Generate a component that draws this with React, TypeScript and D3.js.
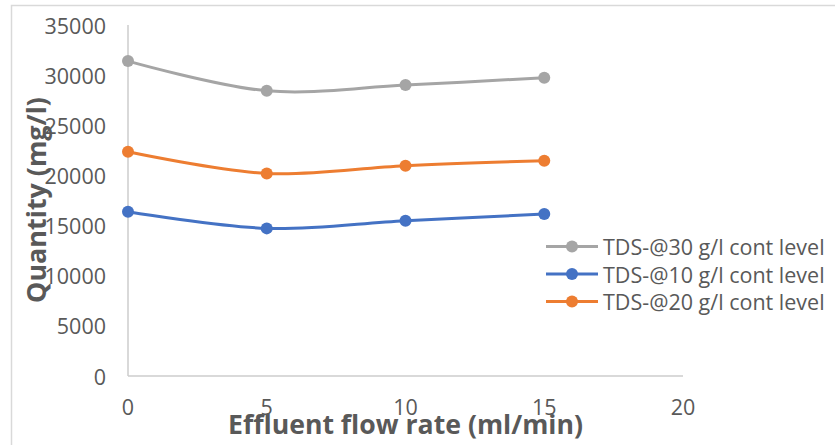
import React from "react";
import * as d3 from "d3";

// Effluent flow rate (ml/min)
const flowRates = [0, 5, 10, 15];
// TDS quantity (mg/l) per contamination level
const tds30 = [31400, 28440, 29010, 29740];
const tds10 = [16380, 14720, 15490, 16150];
const tds20 = [22360, 20200, 20970, 21470];

const xTicks = [0, 5, 10, 15, 20];
const yTicks = [0, 5000, 10000, 15000, 20000, 25000, 30000, 35000];

const seriesNames = [
  "TDS-@30 g/l cont level",
  "TDS-@10 g/l cont level",
  "TDS-@20 g/l cont level",
];
const seriesValues = [tds30, tds10, tds20];
const seriesColors = ["#A5A5A5", "#4472C4", "#ED7D31"];

const W = 835;
const H = 445;
const FONT = "'Open Sans', 'Noto Sans', sans-serif";
const TEXT = "#595959";

export default function App() {
  const x = d3.scaleLinear().domain([0, 20]).range([128, 683]);
  const y = d3.scaleLinear().domain([0, 35000]).range([376, 25]);

  const line = d3
    .line<[number, number]>()
    .x((d) => x(d[0]))
    .y((d) => y(d[1]))
    .curve(d3.curveCatmullRom.alpha(0.5));

  const drawOrder = [1, 2, 0];

  return (
    <svg
      width={W}
      height={H}
      style={{ position: "absolute", left: 0, top: 0, background: "#fff" }}
      fontFamily={FONT}
    >
      <rect x={0} y={0} width={W} height={H} fill="#fff" />
      {/* chart frame */}
      <rect x={11.5} y={5.5} width={W + 10} height={H + 10} fill="none" stroke="#d9d9d9" strokeWidth={1.5} />

      {/* axes */}
      <line x1={x(0)} x2={x(0)} y1={y(35000)} y2={y(0)} stroke="#cccccc" strokeWidth={1.5} />
      <line x1={x(0)} x2={x(20)} y1={y(0)} y2={y(0)} stroke="#cccccc" strokeWidth={1.5} />

      {yTicks.map((t) => (
        <text
          key={"y" + t}
          x={106}
          y={y(t)}
          textAnchor="end"
          dominantBaseline="central"
          fontSize={21.5}
          fill={TEXT}
        >
          {t}
        </text>
      ))}
      {xTicks.map((t) => (
        <text
          key={"x" + t}
          x={x(t)}
          y={406}
          textAnchor="middle"
          dominantBaseline="central"
          fontSize={21.5}
          fill={TEXT}
        >
          {t}
        </text>
      ))}

      {/* axis titles */}
      <text
        x={405.5}
        y={434}
        textAnchor="middle"
        fontSize={27}
        fontWeight="bold"
        fill={TEXT}
        textLength={355}
        lengthAdjust="spacingAndGlyphs"
      >
        Effluent flow rate (ml/min)
      </text>
      <text
        transform={`translate(46, 200) rotate(-90)`}
        textAnchor="middle"
        fontSize={27}
        fontWeight="bold"
        fill={TEXT}
        textLength={206}
        lengthAdjust="spacingAndGlyphs"
      >
        Quantity (mg/l)
      </text>

      {/* series */}
      {drawOrder.map((i) => {
        const pts = flowRates.map((f, k) => [f, seriesValues[i][k]] as [number, number]);
        return (
          <g key={"s" + i}>
            <path d={line(pts) || ""} fill="none" stroke={seriesColors[i]} strokeWidth={3} />
            {pts.map((p, k) => (
              <circle key={k} cx={x(p[0])} cy={y(p[1])} r={6} fill={seriesColors[i]} />
            ))}
          </g>
        );
      })}

      {/* legend */}
      {seriesNames.map((name, i) => {
        const ly = 246.5 + i * 27.5;
        return (
          <g key={"l" + i}>
            <line x1={546} x2={598} y1={ly} y2={ly} stroke={seriesColors[i]} strokeWidth={3} />
            <circle cx={572} cy={ly} r={6} fill={seriesColors[i]} />
            <text x={603} y={ly} dominantBaseline="central" fontSize={21.5} fill={TEXT}>
              {name}
            </text>
          </g>
        );
      })}
    </svg>
  );
}
